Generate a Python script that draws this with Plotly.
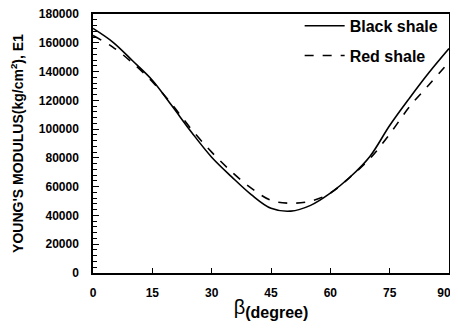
import plotly.graph_objects as go

beta = [0, 5, 10, 15, 20, 25, 30, 35, 40, 45, 50, 55, 60, 65, 70, 75, 80, 85, 90]
black_shale = [170000, 160500, 147500, 134000, 116000, 97500, 80500, 67000, 54500, 45000, 43000, 47000, 55500, 66700, 81000, 102500, 121500, 139500, 156000]
red_shale = [165000, 157000, 146000, 133000, 117000, 99500, 84000, 70500, 59000, 50500, 48500, 50000, 55500, 66700, 79500, 96500, 115500, 131000, 146500]

x_ticks = [0, 15, 30, 45, 60, 75, 90]
x_tick_labels = ["0", "15", "30", "45", "60", "75", "90\u00a0\u00a0\u00a0"]
y_ticks = [0, 20000, 40000, 60000, 80000, 100000, 120000, 140000, 160000, 180000]

FONT = "Liberation Sans, Arial, sans-serif"

fig = go.Figure()
fig.add_trace(go.Scatter(x=beta, y=black_shale, mode="lines", name="Black shale", legendgroup="a",
                         line=dict(color="black", width=1.6, shape="spline")))
fig.add_trace(go.Scatter(x=beta, y=red_shale, mode="lines", name="Red shale", legendgroup="b",
                         line=dict(color="black", width=1.6, dash="dash", shape="spline")))

# page body has an 8px margin, so the figure is sized/positioned to compensate
fig.update_layout(
    width=442, height=313,
    margin=dict(l=85, r=1, t=6, b=48, autoexpand=False),
    paper_bgcolor="white", plot_bgcolor="white",
    font=dict(family=FONT, color="black"),
    showlegend=True,
    legend=dict(x=0.985, y=1.02, xanchor="right", yanchor="top",
                bgcolor="rgba(0,0,0,0)", font=dict(size=16, weight="bold"),
                tracegroupgap=6, itemwidth=40),
)
fig.update_xaxes(
    range=[0, 90], tickvals=x_ticks, ticktext=x_tick_labels,
    showline=True, linecolor="black", linewidth=1.5, mirror=True,
    ticks="inside", ticklen=5, tickwidth=1.2, tickcolor="black",
    showgrid=False, zeroline=False, ticklabeloverflow="allow",
    tickfont=dict(size=12, weight="bold"), ticklabelstandoff=8,
    title=dict(text="β<sub><span style='font-size:16px'><b>(degree)</b></span></sub>",
               font=dict(size=20), standoff=0),
)
fig.update_yaxes(
    range=[0, 180000], tickvals=y_ticks, ticktext=[str(v) for v in y_ticks],
    showline=True, linecolor="black", linewidth=1.5, mirror=True,
    ticks="inside", ticklen=6, tickwidth=1.2, tickcolor="black",
    minor=dict(dtick=4000, ticks="inside", ticklen=4, tickwidth=1, tickcolor="black"),
    showgrid=False, zeroline=False, ticklabeloverflow="allow",
    tickfont=dict(size=12, weight="bold"), ticklabelstandoff=10,
    title=dict(text="YOUNG'S MODULUS(kg/cm<sup>2</sup>), E1", font=dict(size=14, weight="bold"), standoff=14),
)

fig.write_html("out.html")
